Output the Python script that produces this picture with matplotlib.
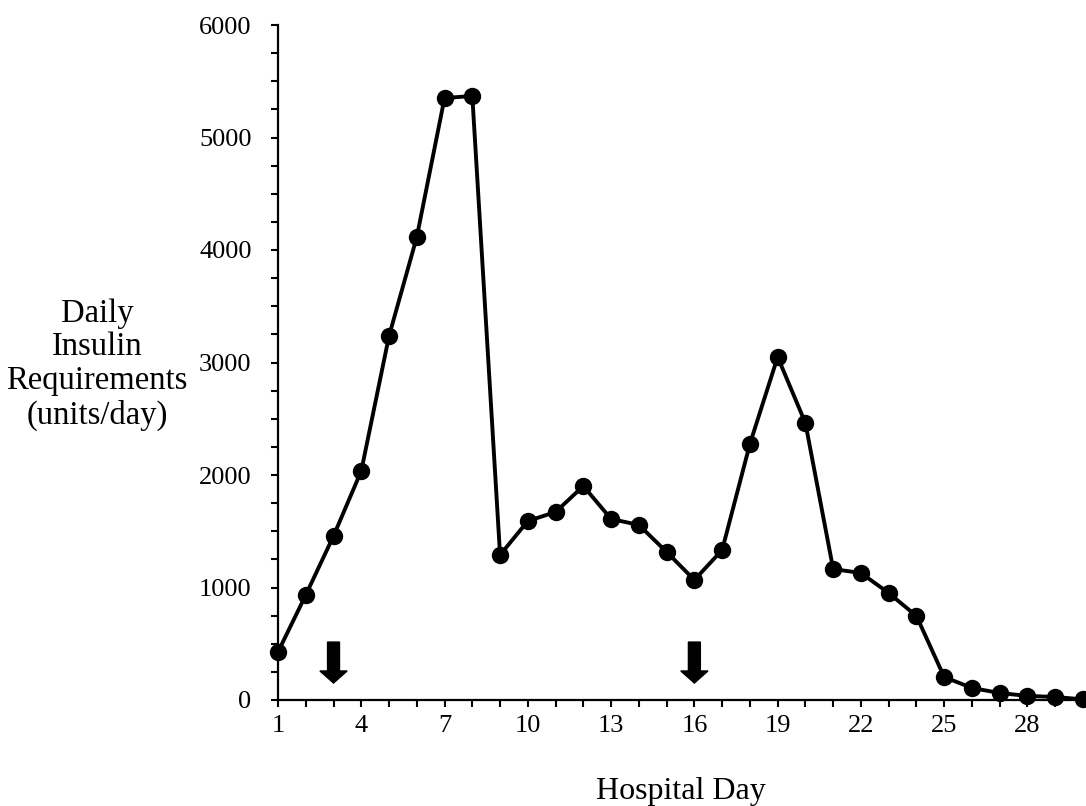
import matplotlib
matplotlib.use("Agg")
import matplotlib.pyplot as plt
from matplotlib.ticker import MultipleLocator, FixedLocator

plt.rcParams['font.family'] = ['Liberation Serif', 'DejaVu Serif']

days = list(range(1, 31))
insulin = [427, 933, 1458, 2036, 3236, 4115, 5351, 5369, 1289, 1591,
           1671, 1902, 1609, 1556, 1316, 1067, 1333, 2276, 3049, 2462,
           1164, 1129, 951, 747, 204, 107, 62, 36, 27, 5]
arrow_days = [3, 16]
arrow_top = 515
arrow_tip = 151
xtick_labels = [1, 4, 7, 10, 13, 16, 19, 22, 25, 28]

fig = plt.figure(figsize=(10.86, 8.06), dpi=100)
ax = fig.add_axes([278/1086, 1-700/806, (1083-278)/1086, 675/806])

ax.plot(days, insulin, color='black', lw=2.8, marker='o', ms=11.5,
        clip_on=False, zorder=3)

for d in arrow_days:
    ax.arrow(d, arrow_top, 0, -(arrow_top - arrow_tip), width=0.43,
             head_width=0.98, head_length=107, length_includes_head=True,
             color='black', zorder=4)

ax.set_xlim(1, 30)
ax.set_ylim(0, 6000)
ax.spines['top'].set_visible(False)
ax.spines['right'].set_visible(False)
for s in ['left', 'bottom']:
    ax.spines[s].set_linewidth(1.6)

ax.yaxis.set_major_locator(MultipleLocator(1000))
ax.yaxis.set_minor_locator(MultipleLocator(250))
ax.xaxis.set_major_locator(FixedLocator(xtick_labels))
ax.xaxis.set_minor_locator(MultipleLocator(1))
ax.set_xticklabels([str(v) for v in xtick_labels])

ax.tick_params(axis='both', which='both', direction='out', length=5,
               width=1.5, labelsize=19)
ax.tick_params(axis='y', which='both', pad=14)
ax.tick_params(axis='x', which='both', pad=6)

ax.set_ylabel("Daily\nInsulin\nRequirements\n(units/day)", rotation=0,
              fontsize=23.5, ha='center', va='center', linespacing=1.14)
ax.yaxis.set_label_coords(-0.225, 0.497)
ax.set_xlabel("Hospital Day", fontsize=23, va='center')
ax.xaxis.set_label_coords(0.5, -0.135)

fig.savefig("out.png", dpi=100)
